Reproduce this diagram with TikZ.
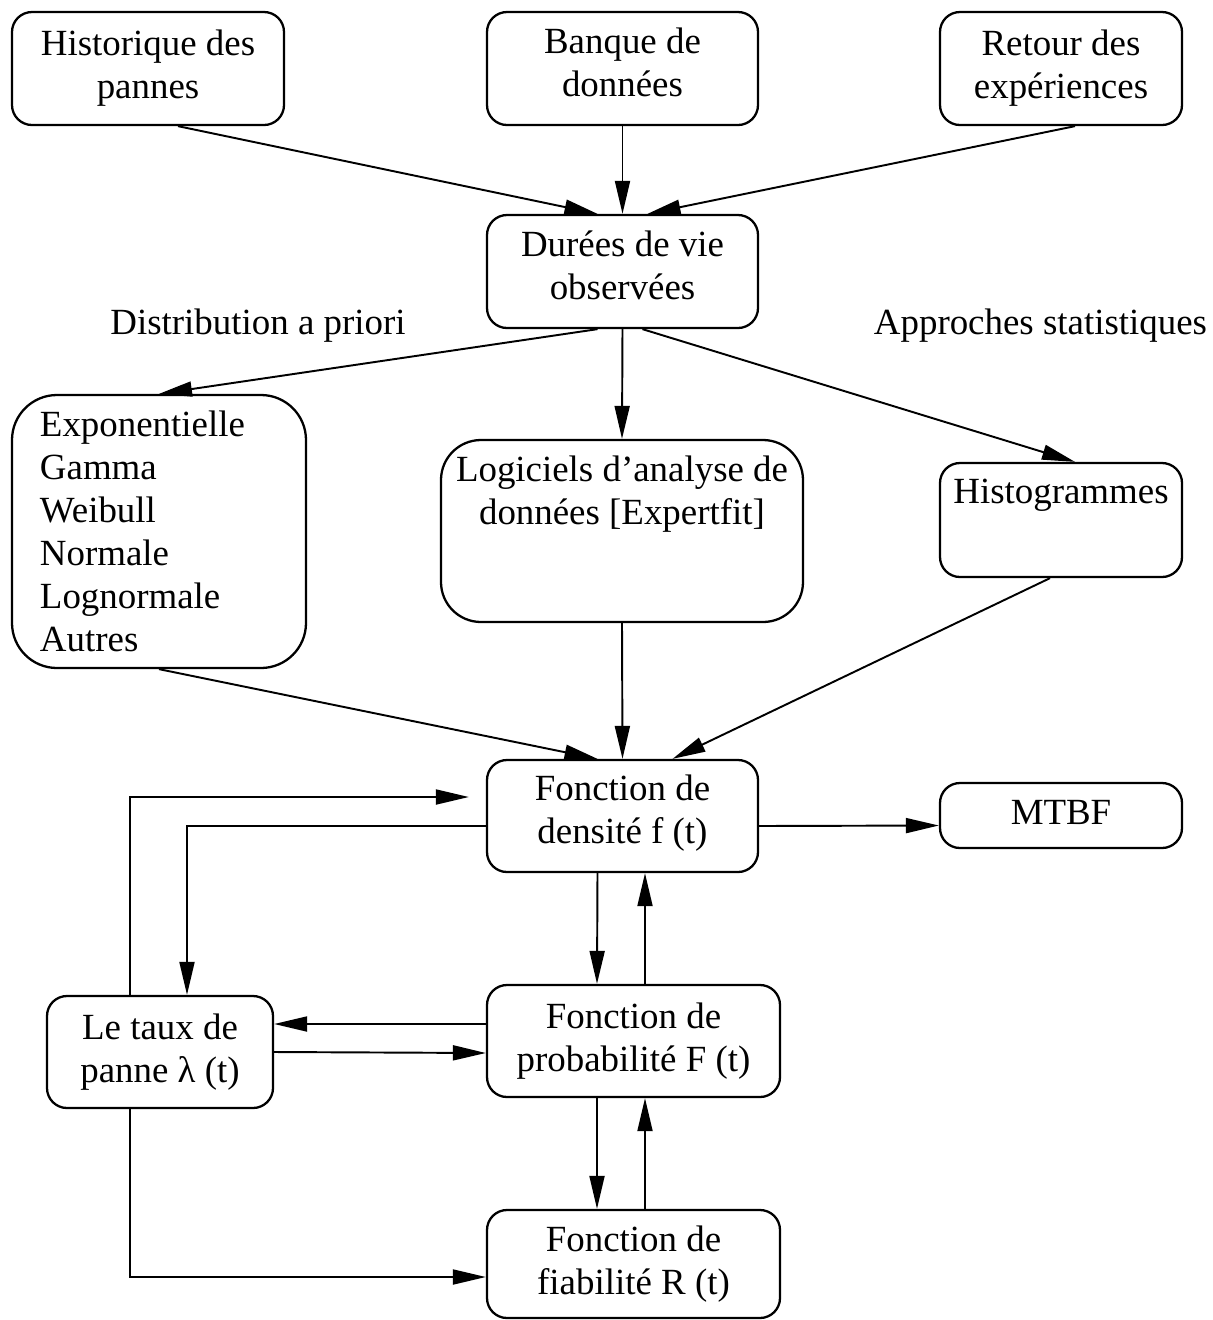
\documentclass[tikz,border=0pt]{standalone}
\usepackage{fontspec}
\setmainfont{Liberation Serif}
\usetikzlibrary{arrows.meta,positioning}

\tikzset{
  boite/.style={draw, line width=1.3pt, rounded corners=0.4cm, align=center, inner sep=0pt},
  fleche/.style={line width=1.1pt, -{Triangle[length=0.66cm,width=0.3cm]}},
}

\begin{document}
\begin{tikzpicture}[font=\fontsize{21}{24.5}\selectfont]
                \useasboundingbox (0,0) rectangle (24.26,-26.4);
                %% data sources
                \node[boite, minimum width=5.44cm, minimum height=2.26cm] (hist) at (2.96,-1.37) {Historique des\\pannes};
                \node[boite, minimum width=5.42cm, minimum height=2.26cm] (banque) at (12.45,-1.37) {Banque de\\données\strut};
                \node[boite, minimum width=4.84cm, minimum height=2.26cm] (retour) at (21.22,-1.37) {Retour des\\expériences};
                \node[boite, minimum width=5.42cm, minimum height=2.26cm] (duree) at (12.45,-5.43) {Durées de vie\\observées\strut};
                \node (distrib) at (5.16,-6.52) {Distribution a priori};
                \node (approche) at (20.81,-6.52) {Approches statistiques};
                %% fitting methods
                \node[boite, rounded corners=0.9cm, minimum height=5.46cm, align=left, text width=4.76cm, inner xsep=0.56cm] (lois) at (3.18,-10.63)
                    {Exponentielle\\Gamma\\Weibull\\Normale\\Lognormale\\Autres};
                \node[boite, rounded corners=0.8cm, minimum width=7.24cm, minimum height=3.64cm] (logiciel) at (12.44,-10.62) {};
                \node[align=center, inner sep=0pt, below=0.34cm of logiciel.north] (logtxt) {Logiciels d'analyse de\\données [Expertfit]};
                \node[boite, minimum width=4.84cm, minimum height=2.28cm] (histo) at (21.22,-10.4) {};
                \node[inner sep=0pt, below=0.34cm of histo.north] (histotxt) {Histogrammes};
                %% functions
                \node[boite, minimum width=5.42cm, minimum height=2.24cm] (densite) at (12.45,-16.32) {Fonction de\\densité f (t)\strut};
                \node[boite, minimum width=4.84cm, minimum height=1.3cm] (mtbf) at (21.22,-16.31) {MTBF\strut};
                \node[boite, minimum width=4.52cm, minimum height=2.24cm] (taux) at (3.2,-21.04) {Le taux de\\panne λ (t)};
                \node[boite, minimum width=5.86cm, minimum height=2.24cm] (proba) at (12.67,-20.82) {Fonction de\\probabilité F (t)};
                \node[boite, minimum width=5.86cm, minimum height=2.16cm] (fiab) at (12.67,-25.28) {Fonction de\\fiabilité R (t)};
                %% top arrows
                \draw[fleche] ([xshift=0.6cm]hist.south) -- ([xshift=-0.5cm]duree.north);
                \draw[fleche] (banque.south) -- (duree.north);
                \draw[fleche] ([xshift=0.28cm]retour.south) -- ([xshift=0.5cm]duree.north);
                \draw[fleche] ([xshift=-0.5cm]duree.south) -- (lois.north);
                \draw[fleche] (duree.south) -- (logiciel.north);
                \draw[fleche] ([xshift=0.4cm]duree.south) -- ([xshift=0.28cm]histo.north);
                \draw[fleche] (lois.south) -- ([xshift=-0.5cm]densite.north);
                \draw[fleche] (logiciel.south) -- (densite.north);
                \draw[fleche] ([xshift=-0.22cm]histo.south) -- ([xshift=1cm]densite.north);
                \draw[fleche] ([yshift=-0.2cm]densite.east) -- ([yshift=-0.2cm]mtbf.west);
                %% loops between the functions
                \draw[fleche, shorten >=0.34cm] ([xshift=-0.6cm]taux.north) |- ([yshift=0.38cm]densite.west);
                \draw[fleche] ([yshift=-0.2cm]densite.west) -| ([xshift=0.54cm]taux.north);
                \draw[fleche] ([yshift=0.34cm]proba.west) -- ([yshift=0.56cm]taux.east);
                \draw[fleche] ([yshift=0cm]taux.east) -- ([yshift=-0.24cm]proba.west);
                \draw[fleche] ([xshift=-0.5cm]densite.south) -- ([xshift=-0.73cm]proba.north);
                \draw[fleche] ([xshift=0.23cm]proba.north) -- ([xshift=0.45cm]densite.south);
                \draw[fleche] ([xshift=-0.73cm]proba.south) -- ([xshift=-0.73cm]fiab.north);
                \draw[fleche] ([xshift=0.23cm]fiab.north) -- ([xshift=0.23cm]proba.south);
                \draw[fleche] ([xshift=-0.6cm]taux.south) |- ([yshift=-0.26cm]fiab.west);
            \end{tikzpicture}
\end{document}
